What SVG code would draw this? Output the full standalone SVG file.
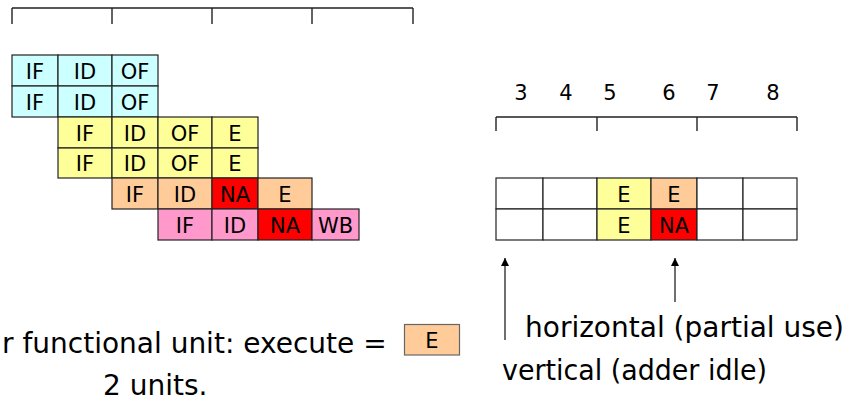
<svg xmlns="http://www.w3.org/2000/svg" width="850" height="406" viewBox="0 0 850 406">
<style>
.c rect{stroke:#222;stroke-width:1.2}
.c text{font-family:"DejaVu Sans",sans-serif;font-size:21px;fill:#000;text-anchor:middle}
.cy{fill:#CCFFFF}.ye{fill:#FFFF99}.or{fill:#FFCC99}.re{fill:#FF0000}.pk{fill:#FF99CC}.wh{fill:#FFFFFF}
.ruler{stroke:#222;stroke-width:1.4;fill:none}
.num{font-family:"DejaVu Sans",sans-serif;font-size:21px;fill:#000;text-anchor:middle}
.big{font-family:"DejaVu Sans",sans-serif;font-size:28px;fill:#000}
.arr{stroke:#222;stroke-width:1.3;fill:none;marker-end:url(#ah)}
</style>
<defs>
<marker id="ah" viewBox="0 0 10 10" refX="10" refY="5" markerWidth="8" markerHeight="8" markerUnits="userSpaceOnUse" orient="auto">
<path d="M0,0 L10,5 L0,10 Z" fill="#000"/>
</marker>
</defs>
<rect width="850" height="406" fill="#fff"/>

<g id="ruler-top" class="ruler">
<path d="M12,8 H413 M12,8 V24 M112,8 V24 M212,8 V24 M312,8 V24 M413,8 V24"/>
</g>

<g id="row1" class="c">
<g id="r1c1"><rect class="cy" x="12" y="55" width="46" height="31"/><text x="35" y="79">IF</text></g>
<g id="r1c2"><rect class="cy" x="58" y="55" width="54" height="31"/><text x="85" y="79">ID</text></g>
<g id="r1c3"><rect class="cy" x="112" y="55" width="46" height="31"/><text x="135" y="79">OF</text></g>
</g>
<g id="row2" class="c">
<g id="r2c1"><rect class="cy" x="12" y="86" width="46" height="31"/><text x="35" y="110">IF</text></g>
<g id="r2c2"><rect class="cy" x="58" y="86" width="54" height="31"/><text x="85" y="110">ID</text></g>
<g id="r2c3"><rect class="cy" x="112" y="86" width="46" height="31"/><text x="135" y="110">OF</text></g>
</g>
<g id="row3" class="c">
<g id="r3c1"><rect class="ye" x="58" y="117" width="54" height="31"/><text x="85" y="141">IF</text></g>
<g id="r3c2"><rect class="ye" x="112" y="117" width="46" height="31"/><text x="135" y="141">ID</text></g>
<g id="r3c3"><rect class="ye" x="158" y="117" width="54" height="31"/><text x="185" y="141">OF</text></g>
<g id="r3c4"><rect class="ye" x="212" y="117" width="46" height="31"/><text x="235" y="141">E</text></g>
</g>
<g id="row4" class="c">
<g id="r4c1"><rect class="ye" x="58" y="148" width="54" height="30"/><text x="85" y="171">IF</text></g>
<g id="r4c2"><rect class="ye" x="112" y="148" width="46" height="30"/><text x="135" y="171">ID</text></g>
<g id="r4c3"><rect class="ye" x="158" y="148" width="54" height="30"/><text x="185" y="171">OF</text></g>
<g id="r4c4"><rect class="ye" x="212" y="148" width="46" height="30"/><text x="235" y="171">E</text></g>
</g>
<g id="row5" class="c">
<g id="r5c1"><rect class="or" x="112" y="178" width="46" height="31"/><text x="135" y="202">IF</text></g>
<g id="r5c2"><rect class="or" x="158" y="178" width="54" height="31"/><text x="185" y="202">ID</text></g>
<g id="r5c3"><rect class="re" x="212" y="178" width="46" height="31"/><text x="235" y="202">NA</text></g>
<g id="r5c4"><rect class="or" x="258" y="178" width="54" height="31"/><text x="285" y="202">E</text></g>
</g>
<g id="row6" class="c">
<g id="r6c1"><rect class="pk" x="158" y="209" width="54" height="31"/><text x="185" y="233">IF</text></g>
<g id="r6c2"><rect class="pk" x="212" y="209" width="46" height="31"/><text x="235" y="233">ID</text></g>
<g id="r6c3"><rect class="re" x="258" y="209" width="54" height="31"/><text x="285" y="233">NA</text></g>
<g id="r6c4"><rect class="pk" x="312" y="209" width="47" height="31"/><text x="335.5" y="233">WB</text></g>
</g>

<g id="numbers">
<text class="num" x="521" y="100">3</text>
<text class="num" x="566" y="100">4</text>
<text class="num" x="610" y="100">5</text>
<text class="num" x="669" y="100">6</text>
<text class="num" x="713" y="100">7</text>
<text class="num" x="773" y="100">8</text>
</g>
<g id="ruler-right" class="ruler">
<path d="M496,117 H797 M496,117 V131 M597,117 V131 M697,117 V131 M797,117 V131"/>
</g>

<g id="grid-right" class="c">
<g id="g1"><rect class="wh" x="496" y="178" width="47" height="31"/></g>
<g id="g2"><rect class="wh" x="543" y="178" width="54" height="31"/></g>
<g id="g3"><rect class="ye" x="597" y="178" width="54" height="31"/><text x="624" y="202">E</text></g>
<g id="g4"><rect class="or" x="651" y="178" width="46" height="31"/><text x="674" y="202">E</text></g>
<g id="g5"><rect class="wh" x="697" y="178" width="46" height="31"/></g>
<g id="g6"><rect class="wh" x="743" y="178" width="54" height="31"/></g>
<g id="g7"><rect class="wh" x="496" y="209" width="47" height="31"/></g>
<g id="g8"><rect class="wh" x="543" y="209" width="54" height="31"/></g>
<g id="g9"><rect class="ye" x="597" y="209" width="54" height="31"/><text x="624" y="233">E</text></g>
<g id="g10"><rect class="re" x="651" y="209" width="46" height="31"/><text x="674" y="233">NA</text></g>
<g id="g11"><rect class="wh" x="697" y="209" width="46" height="31"/></g>
<g id="g12"><rect class="wh" x="743" y="209" width="54" height="31"/></g>
</g>

<g id="connectors">
<path class="arr" d="M505,340 V258"/>
<path class="arr" d="M675,302 V258"/>
</g>

<g id="caption-left">
<text class="big" x="2" y="353">r functional unit: execute =</text>
<text class="big" x="103" y="395">2 units.</text>
</g>
<g id="legend-e" class="c">
<rect class="or" x="404.5" y="324.5" width="55" height="30.5" style="stroke:#666"/>
<text x="432" y="348">E</text>
</g>
<g id="caption-right">
<text class="big" x="525" y="337">horizontal (partial use)</text>
<text class="big" x="502" y="380" textLength="265" lengthAdjust="spacingAndGlyphs">vertical (adder idle)</text>
</g>
</svg>
